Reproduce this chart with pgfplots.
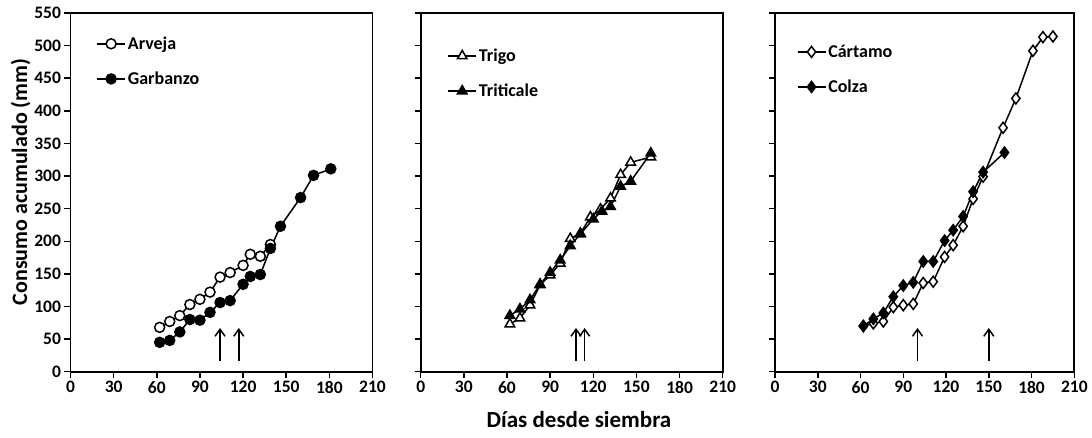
\documentclass[border=0pt]{standalone}
\usepackage{fontspec}
\setmainfont{Carlito}
\usepackage{pgfplots}
\pgfplotsset{compat=1.18}
\usetikzlibrary{arrows.meta}

\pgfplotsset{
  panel/.style={
    scale only axis, width=302pt, height=358.7pt,
    xmin=0, xmax=210, ymin=0, ymax=550,
    xtick={0,30,...,210}, ytick={0,50,...,550},
    tick align=outside, xtick pos=bottom, ytick pos=left,
    axis line style={line width=1.8pt},
    major tick length=6pt,
    major tick style={black, line width=1.5pt},
    tick label style={font=\fontsize{17.5}{20}\selectfont\bfseries},
    /pgf/number format/assume math mode=true,
    clip=false,
    legend cell align=left,
    legend style={anchor=north west, draw=none, fill=none, inner sep=0pt,
      row sep=17pt, font=\fontsize{18}{21}\selectfont\bfseries},
    legend image code/.code={\draw[mark repeat=2,mark phase=2,#1]
      plot coordinates {(0pt,0pt) (14pt,0pt) (28pt,0pt)};},
  },
  ser/.style={black, line width=1.5pt, mark size=5pt,
    mark options={solid, line width=1pt}},
  arr/.style={black, line width=1.5pt, -{Straight Barb[length=7pt,width=10pt]}},
}

\begin{document}
\begin{tikzpicture}
\useasboundingbox (0,0) rectangle (1092pt,438pt);

% Leguminosas
\begin{axis}[panel, at={(70.5pt,66.3pt)}, anchor=south west,
  legend style={at={(0.085,0.94)}}]
\addplot[ser, mark=*, mark options={fill=white}] coordinates {
 (62,68) (69,77) (76,86) (83,103) (90,111) (97,122) (104,145) (111,152)
 (120,163) (125,180) (132,177) (139,195)
};
\addlegendentry{Arveja}
\addplot[ser, mark=*, mark options={fill=black}] coordinates {
 (62,45) (69,48) (76,61) (83,80) (90,79) (97,91) (104,106) (111,109)
 (120,134) (125,146) (132,149) (139,189) (146,223) (160,267) (169,301) (181,311)
};
\addlegendentry{Garbanzo}
\addplot[arr, forget plot] coordinates {(104,17) (104,67)};
\addplot[arr, forget plot] coordinates {(117,17) (117,67)};
\end{axis}

% Cereales
\begin{axis}[panel, at={(420.7pt,66.3pt)}, anchor=south west, yticklabels={},
  legend style={at={(0.088,0.906)}}]
\addplot[ser, mark=triangle*, mark size=5.5pt, mark options={fill=white}] coordinates {
 (62,73) (69,82) (76,102) (83,133) (90,148) (97,166) (104,204) (111,212)
 (118,237) (125,249) (132,266) (139,302) (146,321) (160,329)
};
\addlegendentry{Trigo}
\addplot[ser, mark=triangle*, mark size=5.5pt, mark options={fill=black}] coordinates {
 (62,86) (69,96) (76,110) (83,134) (90,152) (97,171) (104,193) (111,211)
 (120,234) (126,246) (132,253) (139,284) (146,292) (160,335)
};
\addlegendentry{Triticale}
\addplot[arr, forget plot] coordinates {(108,17) (108,67)};
\addplot[arr, forget plot] coordinates {(114,17) (114,67)};
\end{axis}

% Oleaginosas
\begin{axis}[panel, width=299.3pt, at={(775pt,66.3pt)}, anchor=south west, yticklabels={},
  legend style={at={(0.072,0.917)}}]
\addplot[ser, mark=diamond*, mark size=5.5pt, mark options={fill=white}] coordinates {
 (62,70) (69,74) (76,77) (83,99) (90,102) (97,104) (104,136) (111,138)
 (119,176) (125,194) (132,223) (139,265) (146,299) (160,374) (169,419)
 (181,492) (188,513) (195,514)
};
\addlegendentry{Cártamo}
\addplot[ser, mark=diamond*, mark size=5.5pt, mark options={fill=black}] coordinates {
 (62,70) (69,81) (76,90) (83,115) (90,132) (97,137) (104,169) (111,169)
 (119,201) (125,217) (132,238) (139,276) (146,306) (161,336)
};
\addlegendentry{Colza}
\addplot[arr, forget plot] coordinates {(100,17) (100,67)};
\addplot[arr, forget plot] coordinates {(150,17) (150,67)};
\end{axis}

\node[rotate=90, anchor=base, font=\fontsize{22}{26}\selectfont\bfseries]
  at (27pt,256pt) {Consumo acumulado (mm)};
\node[anchor=base, font=\fontsize{23}{27}\selectfont\bfseries]
  at (579pt,10pt) {Días desde siembra};
\end{tikzpicture}
\end{document}
